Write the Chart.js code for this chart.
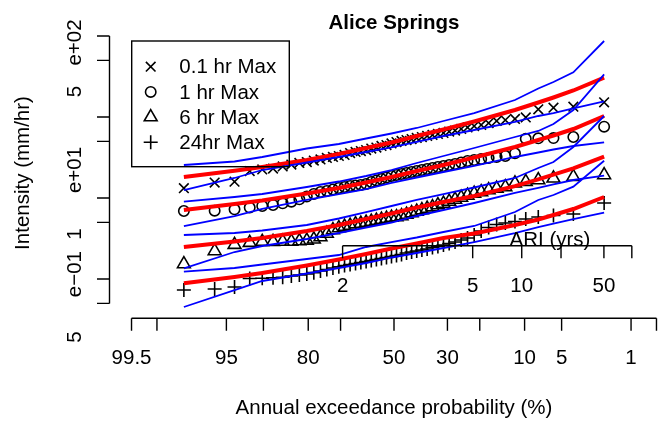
<!DOCTYPE html>
<html><head><meta charset="utf-8">
<script src="https://cdn.jsdelivr.net/npm/chart.js@4"></script>
<style>html,body{margin:0;padding:0;background:#fff;}#wrap{width:667px;height:425px;}</style>
</head><body><div id="wrap"><canvas id="c" width="667" height="425"></canvas></div>
<script>
// ---------- DATA ----------
// plotting positions of the 50 annual maxima (annual exceedance probability, %)
const aepPct = [98.04,96.08,94.12,92.16,90.20,88.24,86.27,84.31,82.35,80.39,78.43,76.47,74.51,72.55,70.59,68.63,66.67,64.71,62.75,60.78,58.82,56.86,54.90,52.94,50.98,49.02,47.06,45.10,43.14,41.18,39.22,37.25,35.29,33.33,31.37,29.41,27.45,25.49,23.53,21.57,19.61,17.65,15.69,13.73,11.76,9.80,7.84,5.88,3.92,1.96];
const max01 = [1.32,1.55,1.59,2.15,2.25,2.31,2.45,2.59,2.71,2.78,2.90,2.99,3.12,3.21,3.30,3.40,3.59,3.70,3.80,3.91,4.08,4.20,4.39,4.51,4.71,4.91,5.06,5.20,5.35,5.51,5.66,5.83,6.00,6.17,6.35,6.62,6.81,7.11,7.42,7.74,7.97,8.43,8.93,9.18,9.45,9.86,12.45,13.02,13.40,15.19];
const max1 = [0.691,0.697,0.725,0.763,0.797,0.820,0.860,0.900,0.964,1.043,1.120,1.186,1.220,1.273,1.329,1.367,1.406,1.427,1.447,1.489,1.576,1.644,1.716,1.791,1.869,1.923,1.979,2.036,2.094,2.154,2.216,2.280,2.347,2.414,2.484,2.555,2.629,2.744,2.863,2.945,3.030,3.118,3.208,3.300,3.564,5.39,5.46,5.50,5.664,7.590];
const max6 = [0.1532,0.2216,0.2652,0.2806,0.2887,0.2887,0.2904,0.2904,0.2945,0.2987,0.3091,0.3300,0.3645,0.4026,0.4263,0.4448,0.4576,0.4775,0.4843,0.4983,0.5127,0.5275,0.5427,0.5584,0.5745,0.5827,0.5995,0.6257,0.6528,0.6813,0.7110,0.7420,0.7743,0.8197,0.8553,0.9053,0.9582,1.014,1.074,1.136,1.186,1.255,1.310,1.367,1.519,1.589,1.668,1.751,1.832,1.923];
const max24 = [0.0731,0.0752,0.0797,0.1014,0.1020,0.1038,0.1049,0.1089,0.1120,0.1153,0.1197,0.1255,0.1310,0.1367,0.1418,0.1468,0.1510,0.1553,0.1598,0.1644,0.1692,0.1741,0.1791,0.1843,0.1896,0.1951,0.2007,0.2094,0.2154,0.2216,0.2280,0.2346,0.2448,0.2519,0.2629,0.2743,0.2862,0.3030,0.3208,0.3494,0.3914,0.4324,0.4709,0.4911,0.5127,0.5504,0.5827,0.6081,0.6346,0.8675];

// fitted curve (red) and confidence limits (blue), at selected plotting positions
const curveAep = [98.04,94.12,90.20,80.39,70.59,60.78,50.98,41.18,31.37,21.57,11.76,7.84,5.88,3.92,1.96];
const fit01 = [1.817,2.166,2.414,2.945,3.493,4.143,4.845,5.827,7.011,8.801,12.20,15.10,17.41,21.24,30.56];
const hi01  = [2.555,2.822,3.208,4.084,4.642,5.427,6.256,7.315,8.925,11.20,16.21,22.48,27.05,35.63,86.75];
const lo01  = [1.255,1.766,2.216,2.744,3.208,3.698,4.203,4.914,5.827,6.912,8.677,10.29,11.20,12.81,15.54];
const fit1  = [0.711,0.843,0.931,1.136,1.329,1.554,1.817,2.154,2.555,3.162,4.263,5.200,5.910,7.109,10.29];
const hi1   = [0.900,1.029,1.120,1.367,1.598,1.869,2.216,2.705,3.300,4.143,5.664,6.718,8.195,12.20,33.67];
const lo1   = [0.451,0.599,0.732,0.945,1.120,1.291,1.532,1.791,2.094,2.484,3.208,3.646,3.970,4.385,4.873];
const fit6  = [0.2484,0.2912,0.3216,0.3914,0.4642,0.5504,0.6436,0.7630,0.8925,1.058,1.403,1.701,1.940,2.320,3.236];
const hi6   = [0.3494,0.3697,0.3970,0.4642,0.5584,0.6716,0.7966,0.945,1.120,1.348,1.766,2.347,2.783,4.263,10.29];
const lo6   = [0.1355,0.2154,0.2555,0.3118,0.3697,0.4324,0.4983,0.5995,0.7110,0.8675,1.153,1.329,1.468,1.668,1.885];
const fit24 = [0.0885,0.1059,0.1186,0.1468,0.1741,0.2035,0.2379,0.2743,0.3208,0.3645,0.4642,0.5427,0.6166,0.7317,1.029];
const hi24  = [0.1231,0.1367,0.1510,0.1766,0.1978,0.2484,0.2862,0.3254,0.3804,0.4512,0.6716,0.945,1.089,1.379,2.887];
const lo24  = [0.0451,0.0731,0.0945,0.1169,0.1367,0.1576,0.1843,0.2094,0.2414,0.2862,0.3697,0.4384,0.4843,0.5504,0.6583];

const seriesNames = ['0.1 hr Max','1 hr Max','6 hr Max','24hr Max'];
const aepTicks  = [99.5,99,95,90,80,70,50,30,20,10,5,1,0.5];
const aepLabels = ['99.5','','95','','80','','50','30','','10','5','1',''];
const ariTickAep = [69.3,22.0,10.5,5.06,1.97,0.98];
const ariLabels  = ['2','5','10','','50',''];
const yTicks = [100,50,10,5,1,0.5,0.1,0.05];
const yLabelText = ['e+02','5','e+01','1','e\u221201','5'];
const yLabelAt   = [83.1,20.6,2.22,0.36,0.115,0.0192];

// ---------- probability-paper transform ----------
function qnorm(p){
  const a=[-3.969683028665376e+01,2.209460984245205e+02,-2.759285104469687e+02,1.383577518672690e+02,-3.066479806614716e+01,2.506628277459239e+00];
  const b=[-5.447609879822406e+01,1.615858368580409e+02,-1.556989798598866e+02,6.680131188771972e+01,-1.328068155288572e+01];
  const c=[-7.784894002430293e-03,-3.223964580411365e-01,-2.400758277161838e+00,-2.549732539343734e+00,4.374664141464968e+00,2.938163982698783e+00];
  const d=[7.784695709041462e-03,3.224671290700398e-01,2.445134137142996e+00,3.754408661907416e+00];
  const pl=0.02425, ph=1-pl; let q,r;
  if(p<pl){q=Math.sqrt(-2*Math.log(p));return (((((c[0]*q+c[1])*q+c[2])*q+c[3])*q+c[4])*q+c[5])/((((d[0]*q+d[1])*q+d[2])*q+d[3])*q+1);}
  if(p>ph){q=Math.sqrt(-2*Math.log(1-p));return -(((((c[0]*q+c[1])*q+c[2])*q+c[3])*q+c[4])*q+c[5])/((((d[0]*q+d[1])*q+d[2])*q+d[3])*q+1);}
  q=p-0.5;r=q*q;return (((((a[0]*r+a[1])*r+a[2])*r+a[3])*r+a[4])*r+a[5])*q/(((((b[0]*r+b[1])*r+b[2])*r+b[3])*r+b[4])*r+1);
}
const probit = aep => qnorm(1 - aep/100);
const pairs = (xs, ys) => xs.map((a,i)=>({x:probit(a), y:ys[i]}));

const SYM = [{s:'crossRot',r:6.8},{s:'circle',r:5.2},{s:'triangle',r:7.4},{s:'cross',r:7}];
const ptSet = (ys,k)=>({label:seriesNames[k],data:pairs(aepPct,ys),showLine:false,pointStyle:SYM[k].s,pointRadius:SYM[k].r,
  pointBorderColor:'#000',pointBackgroundColor:'rgba(0,0,0,0)',pointBorderWidth:1.6,order:3});
const lnSet = (ys,col,w,ord)=>({data:pairs(curveAep,ys),showLine:true,borderColor:col,borderWidth:w,pointRadius:0,fill:false,tension:0,order:ord});

const RED='#ff0000', BLUE='#0000ff';
const datasets = [
  ptSet(max01,0), ptSet(max1,1), ptSet(max6,2), ptSet(max24,3),
  lnSet(fit01,RED,4,2), lnSet(fit1,RED,4,2), lnSet(fit6,RED,4,2), lnSet(fit24,RED,4,2),
  lnSet(hi01,BLUE,1.8,1), lnSet(lo01,BLUE,1.8,1), lnSet(hi1,BLUE,1.8,1), lnSet(lo1,BLUE,1.8,1),
  lnSet(hi6,BLUE,1.8,1), lnSet(lo6,BLUE,1.8,1), lnSet(hi24,BLUE,1.8,1), lnSet(lo24,BLUE,1.8,1)
];

// ---------- R-style axes, title and legend ----------
const FONT = '20.5px "Liberation Sans", Arial, Helvetica, sans-serif';
const BFONT = 'bold 20.5px "Liberation Sans", Arial, Helvetica, sans-serif';
function symbol(ctx, style, r, x, y){
  ctx.beginPath();
  if(style==='circle'){ctx.arc(x,y,r,0,Math.PI*2);}
  else if(style==='triangle'){
    for(let i=0;i<3;i++){const a=i*2*Math.PI/3;const px=x+Math.sin(a)*r, py=y-Math.cos(a)*r; i?ctx.lineTo(px,py):ctx.moveTo(px,py);} ctx.closePath();
  } else if(style==='cross'){ctx.moveTo(x-r,y);ctx.lineTo(x+r,y);ctx.moveTo(x,y-r);ctx.lineTo(x,y+r);}
  else {const o=r*Math.SQRT1_2;ctx.moveTo(x-o,y-o);ctx.lineTo(x+o,y+o);ctx.moveTo(x-o,y+o);ctx.lineTo(x+o,y-o);}
  ctx.stroke();
}
const rPlot = {
  id:'rPlot',
  afterDatasetsDraw(chart){
    const ctx=chart.ctx, xs=chart.scales.x, ys=chart.scales.y;
    ctx.save();
    ctx.strokeStyle='#000'; ctx.fillStyle='#000'; ctx.lineWidth=1.4; ctx.lineCap='butt';
    // title
    ctx.font=BFONT; ctx.textAlign='center'; ctx.textBaseline='alphabetic';
    ctx.fillText('Alice Springs', xs.getPixelForValue(0), 28.5);
    // y axis
    const AX=109.5, TL=12.5;
    const yt = yTicks.map(v=>ys.getPixelForValue(v));
    ctx.beginPath(); ctx.moveTo(AX,Math.min(...yt)); ctx.lineTo(AX,Math.max(...yt));
    yt.forEach(p=>{ctx.moveTo(AX,p);ctx.lineTo(AX-TL,p);}); ctx.stroke();
    ctx.font=FONT;
    yLabelText.forEach((t,i)=>{const p=ys.getPixelForValue(yLabelAt[i]);
      ctx.save();ctx.translate(75,p);ctx.rotate(-Math.PI/2);ctx.textAlign='center';ctx.textBaseline='middle';ctx.fillText(t,0,0);ctx.restore();});
    ctx.save();ctx.translate(23.5,173);ctx.rotate(-Math.PI/2);ctx.textAlign='center';ctx.textBaseline='middle';ctx.fillText('Intensity (mm/hr)',0,0);ctx.restore();
    // bottom x axis
    const BY=318.3;
    const xt = aepTicks.map(a=>xs.getPixelForValue(probit(a)));
    ctx.beginPath(); ctx.moveTo(Math.min(...xt),BY); ctx.lineTo(Math.max(...xt),BY);
    xt.forEach(p=>{ctx.moveTo(p,BY);ctx.lineTo(p,BY+TL);}); ctx.stroke();
    ctx.textAlign='center'; ctx.textBaseline='middle';
    aepLabels.forEach((t,i)=>{ if(t) ctx.fillText(t, xt[i], 358); });
    ctx.textBaseline='alphabetic';
    ctx.fillText('Annual exceedance probability (%)', xs.getPixelForValue(0), 414);
    // ARI axis
    const RY=245.7;
    const rt = ariTickAep.map(a=>xs.getPixelForValue(probit(a)));
    ctx.beginPath(); ctx.moveTo(Math.min(...rt),RY); ctx.lineTo(Math.max(...rt),RY);
    rt.forEach(p=>{ctx.moveTo(p,RY);ctx.lineTo(p,RY+TL);}); ctx.stroke();
    ctx.textBaseline='middle';
    ariLabels.forEach((t,i)=>{ if(t) ctx.fillText(t, rt[i], 286); });
    ctx.fillText('ARI (yrs)', 550, 240);
    // legend
    ctx.strokeRect(131.7,41,157.6,125.7);
    ctx.textAlign='left';
    seriesNames.forEach((n,i)=>{const yy=66.7+i*25.2; ctx.lineWidth=1.6; symbol(ctx,SYM[i].s,SYM[i].r,150.7,yy); ctx.fillText(n,179.3,yy+1);});
    ctx.restore();
  }
};

new Chart(document.getElementById('c'), {
  type:'scatter',
  data:{datasets},
  options:{
    responsive:false, animation:false, devicePixelRatio:1, events:[],
    layout:{padding:0, autoPadding:false},
    plugins:{legend:{display:false}, tooltip:{enabled:false}, title:{display:false}},
    scales:{
      x:{type:'linear', display:false, bounds:'data', min:-394/101.9, max:273/101.9},
      y:{type:'logarithmic', display:false, bounds:'data', min:Math.pow(10,(198-425)/81), max:Math.pow(10,198/81)}
    }
  },
  plugins:[rPlot]
});
</script></body></html>
